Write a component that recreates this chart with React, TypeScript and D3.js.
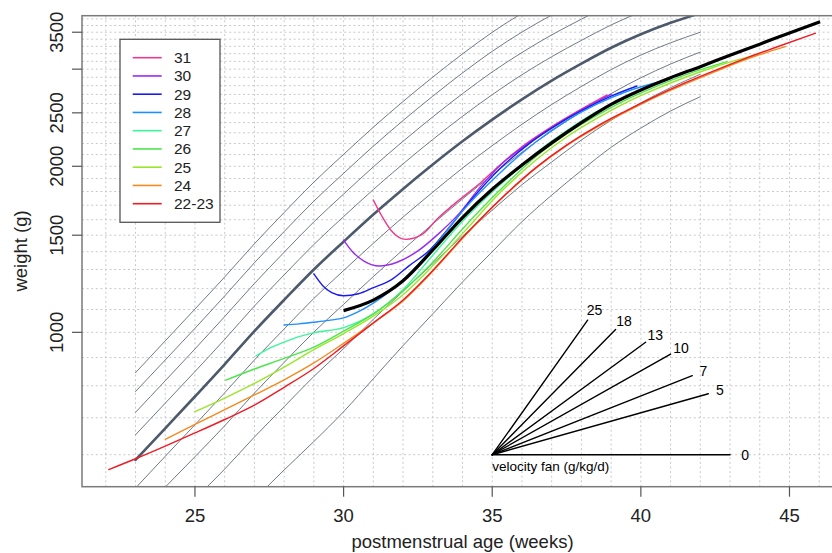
import React from "react";
import * as d3 from "d3";

// ---------- data ----------
const refWeeks = [23, 24, 25, 26, 27, 28, 29, 30, 31, 32, 33, 34, 35, 36, 37, 38, 39, 40, 41, 42];
const refP4 = [845, 965, 1102, 1260, 1447, 1649, 1872, 2102, 2354, 2621, 2902, 3197, 3499, 3788, 4061, 4323, 4592, 4830, 5067, 5276];
const refP3 = [781, 891, 1017, 1164, 1337, 1523, 1729, 1942, 2175, 2421, 2680, 2953, 3232, 3502, 3761, 4009, 4264, 4490, 4710, 4904];
const refP2 = [716, 817, 933, 1068, 1226, 1397, 1586, 1781, 1995, 2220, 2458, 2708, 2965, 3216, 3461, 3696, 3936, 4150, 4353, 4533];
const refP1 = [652, 744, 849, 971, 1116, 1271, 1443, 1621, 1815, 2020, 2237, 2464, 2697, 2931, 3160, 3383, 3608, 3810, 3997, 4161];
const refMedian = [587, 670, 765, 875, 1005, 1145, 1300, 1460, 1635, 1820, 2015, 2220, 2430, 2645, 2860, 3070, 3280, 3470, 3640, 3790];
const refN1 = [522, 596, 680, 777, 891, 1014, 1152, 1294, 1450, 1618, 1795, 1985, 2180, 2383, 2588, 2791, 2995, 3182, 3349, 3500];
const refN2 = [460, 524, 595, 677, 776, 882, 1001, 1124, 1262, 1412, 1572, 1745, 1929, 2121, 2317, 2511, 2709, 2894, 3065, 3222];
const refN3 = [390, 441, 499, 565, 646, 733, 832, 934, 1056, 1187, 1332, 1494, 1665, 1852, 2036, 2232, 2424, 2606, 2777, 2937];
const refN4 = [312, 351, 392, 441, 498, 563, 634, 718, 824, 946, 1080, 1234, 1400, 1587, 1773, 1965, 2165, 2346, 2519, 2674];

const allWeeks = [22, 23, 24, 25, 26, 27, 28, 29, 30, 31, 32, 33, 34, 35, 36, 37, 38, 39, 40, 41, 42, 43, 44, 45, 46];
const yTicks = [1000, 1500, 2000, 2500, 3000, 3500];
const yTickLabels = ["1000", "1500", "2000", "2500", "", "3500"];
const xTicks = [25, 30, 35, 40, 45];
const gridWeights = d3.range(600, 3800, 100);

// cohort trajectories (postmenstrual week, weight g)
const c31w = [31.0, 31.3, 31.6, 32.1, 32.6, 33.2, 33.9, 34.6, 35.3, 36, 37, 38, 38.85];
const c31g = [1737, 1620, 1530, 1474, 1500, 1615, 1740, 1865, 2020, 2170, 2360, 2540, 2693];
const c30w = [30.0, 30.3, 30.7, 31.2, 31.8, 32.5, 33.2, 33.9, 34.6, 35.3, 36, 37, 38, 39];
const c30g = [1470, 1400, 1345, 1319, 1340, 1405, 1510, 1645, 1835, 2015, 2160, 2350, 2530, 2700];
const c29w = [29.0, 29.3, 29.6, 30, 30.5, 31, 31.6, 32.2, 32.9, 33.6, 34.3, 35.3, 36.3, 37.3, 38.3, 39.0, 39.87];
const c29g = [1276, 1215, 1180, 1165, 1175, 1205, 1245, 1320, 1410, 1560, 1740, 1990, 2210, 2400, 2570, 2680, 2796];
const c28w = [28.0, 28.5, 29, 29.5, 30, 30.5, 31, 31.5, 32, 33, 34, 35.26, 36.5, 37.5, 38.5, 39.5, 40.87];
const c28g = [1031, 1036, 1043, 1051, 1062, 1090, 1130, 1180, 1245, 1420, 1660, 1945, 2220, 2420, 2590, 2730, 2867];
const c27w = [27.05, 27.5, 28, 28.5, 29, 30, 31, 32, 33, 34, 35.26, 36.5, 37.5, 38.5, 39.5, 40.5, 41.88];
const c27g = [906, 935, 960, 982, 998, 1020, 1080, 1195, 1380, 1590, 1850, 2120, 2320, 2510, 2670, 2830, 3015];
const c26w = [26.04, 27, 28, 29, 30, 31, 32, 33, 34, 35.26, 36.5, 37.5, 38.5, 39.5, 40.5, 41.5, 42.9];
const c26g = [819, 858, 897, 940, 1005, 1080, 1190, 1340, 1540, 1811, 2090, 2290, 2470, 2640, 2790, 2930, 3095];
const c25w = [25.0, 26, 27, 28, 29, 30, 31, 32, 33, 34, 35.26, 36.5, 37.5, 38.5, 39.5, 40.5, 41.5, 42.5, 44];
const c25g = [718, 760, 808, 865, 930, 995, 1070, 1170, 1320, 1510, 1790, 2060, 2260, 2440, 2610, 2760, 2900, 3030, 3200];
const c24w = [24.0, 25, 26, 27, 28, 29, 30, 31, 32, 33, 34, 35.26, 36.5, 37.5, 38.5, 39.5, 40.5, 41.5, 42.5, 43.5, 44.86];
const c24g = [640, 681, 724, 770, 820, 880, 955, 1040, 1140, 1290, 1480, 1737, 1990, 2180, 2350, 2510, 2670, 2820, 2970, 3120, 3295];
const c22w = [22.1, 23, 24, 25, 26, 27, 28, 29, 30, 31, 32, 33, 34, 35.26, 36.5, 37.5, 38.5, 39.5, 40.5, 41.5, 42.5, 43.5, 44.5, 45.87];
const c22g = [564, 590, 622, 657, 695, 738, 795, 860, 945, 1040, 1145, 1295, 1485, 1740, 1995, 2185, 2360, 2520, 2680, 2835, 2985, 3135, 3280, 3484];
const allW = [30, 31, 32, 33, 34, 35, 36, 37, 38, 39, 40, 41, 42, 43, 44, 45, 46.03];
const allG = [1095, 1144, 1240, 1410, 1615, 1817, 2010, 2205, 2400, 2590, 2750, 2895, 3031, 3180, 3330, 3490, 3658];

const cohortLabels = ["31", "30", "29", "28", "27", "26", "25", "24", "22-23"];
const cohortColors = ["#ec3a8c", "#9a2af0", "#1a1aee", "#1e8fff", "#3ff59a", "#4ce64c", "#9ae62a", "#f58a1f", "#ee1c25"];
const cohortWeeks = [c31w, c30w, c29w, c28w, c27w, c26w, c25w, c24w, c22w];
const cohortGrams = [c31g, c30g, c29g, c28g, c27g, c26g, c25g, c24g, c22g];

// velocity fan
const fanVelocities = [0, 5, 7, 10, 13, 18, 25];
const fanEndWeeks = [43, 42.27, 41.73, 41.0, 40.16, 39.15, 38.21];
const fanOriginWeek = 35;
const fanOriginWeight = 600;

// ---------- layout ----------
const W = 832;
const H = 553;
const left = 82, right = 843, top = 15.7, bottom = 486.7;
const FONT = "'Liberation Sans', Arial, Helvetica, sans-serif";

export default function App() {
  const x = d3.scaleLinear().domain([21.2, 46.8]).range([left, right]);
  const y = d3.scaleLog().domain([525, 3750]).range([bottom, top]);

  const line = d3
    .line<[number, number]>()
    .x((d) => x(d[0]))
    .y((d) => y(d[1]))
    .curve(d3.curveMonotoneX);

  const zip = (ws: number[], gs: number[]) => ws.map((w, i) => [w, gs[i]] as [number, number]);

  const thinRefs = [refP4, refP3, refP2, refP1, refN1, refN2, refN3, refN4];

  const fanEnds = fanVelocities.map((v, i) => {
    const wEnd = fanEndWeeks[i];
    const gEnd = fanOriginWeight * Math.exp((v / 1000) * 7 * (wEnd - fanOriginWeek));
    return { v, wEnd, gEnd };
  });
  const ox = x(fanOriginWeek);
  const oy = y(fanOriginWeight);

  return (
    <svg
      width={W}
      height={H}
      style={{ position: "absolute", left: 0, top: 0, background: "#fff" }}
      fontFamily={FONT}
    >
      <defs>
        <clipPath id="plotclip">
          <rect x={left} y={top} width={right - left} height={bottom - top} />
        </clipPath>
      </defs>
      {/* grid */}
      <g stroke="#c9c9c9" strokeWidth={1} strokeDasharray="2,2.6">
        {allWeeks.map((w) => (
          <line key={"vx" + w} x1={x(w)} x2={x(w)} y1={top} y2={bottom} />
        ))}
        {gridWeights.map((g) => (
          <line key={"hy" + g} x1={left} x2={right} y1={y(g)} y2={y(g)} />
        ))}
      </g>

      <g clipPath="url(#plotclip)" fill="none" strokeLinejoin="round" strokeLinecap="round">
        {thinRefs.map((arr, i) => (
          <path key={"ref" + i} d={line(zip(refWeeks, arr)) || ""} stroke="#5f6b7a" strokeWidth={0.9} />
        ))}
        <path d={line(zip(refWeeks, refMedian)) || ""} stroke="#4d5a6b" strokeWidth={2.6} />
        {cohortWeeks.map((ws, i) => (
          <path key={"c" + i} d={line(zip(ws, cohortGrams[i])) || ""} stroke={cohortColors[i]} strokeWidth={1.4} />
        ))}
        <path d={line(zip(allW, allG)) || ""} stroke="#000" strokeWidth={3.2} strokeLinecap="butt" />

        {/* velocity fan */}
        {fanEnds.map((f) => (
          <line key={"fan" + f.v} x1={ox} y1={oy} x2={x(f.wEnd)} y2={y(f.gEnd)} stroke="#000" strokeWidth={1.4} />
        ))}
      </g>
      {fanEnds.map((f) => {
        const ex = x(f.wEnd);
        const ey = y(f.gEnd);
        const dx = ex - ox;
        const dy = ey - oy;
        const len = Math.sqrt(dx * dx + dy * dy);
        const off = f.v === 0 ? 15 : 12;
        return (
          <text
            key={"fl" + f.v}
            x={ex + (dx / len) * off}
            y={ey + (dy / len) * off + 5}
            textAnchor="middle"
            fontSize={14}
            fill="#000"
          >
            {f.v}
          </text>
        );
      })}
      <text x={ox} y={471} fontSize={13.5} fill="#000">
        velocity fan (g/kg/d)
      </text>

      {/* frame */}
      <rect x={left} y={top} width={right - left} height={bottom - top} fill="none" stroke="#7a7a7a" strokeWidth={1.5} />

      {/* x axis */}
      <g>
        {xTicks.map((t) => (
          <g key={"xt" + t}>
            <line x1={x(t)} x2={x(t)} y1={bottom} y2={bottom + 10} stroke="#555" strokeWidth={1.2} />
            <text x={x(t)} y={521.7} textAnchor="middle" fontSize={18.5} fill="#222">
              {t}
            </text>
          </g>
        ))}
        <text x={462.5} y={548} textAnchor="middle" fontSize={18.5} fill="#222">
          postmenstrual age (weeks)
        </text>
      </g>

      {/* y axis */}
      <g>
        {yTicks.map((t, i) => (
          <g key={"yt" + t}>
            <line x1={left - 10} x2={left} y1={y(t)} y2={y(t)} stroke="#555" strokeWidth={1.2} />
            {yTickLabels[i] && (
              <text
                transform={`translate(63,${y(t)}) rotate(-90)`}
                textAnchor="middle"
                fontSize={18.5}
                fill="#222"
              >
                {yTickLabels[i]}
              </text>
            )}
          </g>
        ))}
        <text transform={`translate(26.5,251) rotate(-90)`} textAnchor="middle" fontSize={18.5} fill="#222">
          weight (g)
        </text>
      </g>

      {/* legend */}
      <g>
        <rect x={120} y={39.3} width={100} height={183} fill="#fff" stroke="#555" strokeWidth={1.3} />
        {cohortLabels.map((lab, i) => {
          const ly = 57.7 + i * 18.25;
          return (
            <g key={"lg" + lab}>
              <line x1={132.7} x2={161.7} y1={ly} y2={ly} stroke={cohortColors[i]} strokeWidth={1.6} />
              <text x={174} y={ly + 5.5} fontSize={15.5} fill="#222">
                {lab}
              </text>
            </g>
          );
        })}
      </g>
    </svg>
  );
}
